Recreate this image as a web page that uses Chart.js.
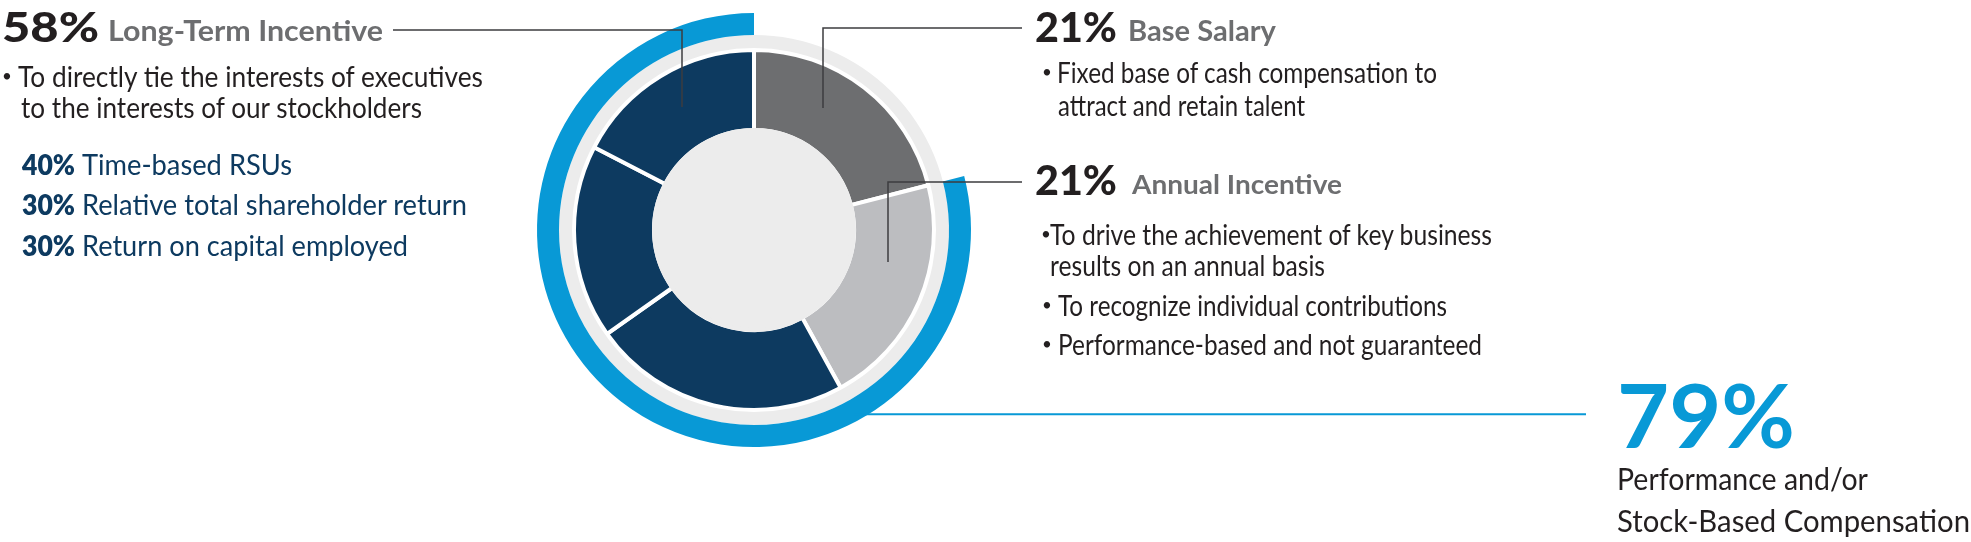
<!DOCTYPE html>
<html>
<head>
<meta charset="utf-8">
<script src="https://cdn.jsdelivr.net/npm/chart.js@4.4.1/dist/chart.umd.min.js"></script>
<style>
  html, body { margin: 0; padding: 0; background: #ffffff; overflow: hidden; width: 1971px; height: 542px; }
  #wrap { position: relative; width: 1971px; height: 542px; }
  #c { position: absolute; left: 0; top: 0; }
  .t { position: absolute; left: 0; top: 0; white-space: nowrap; font-family: Lato, "Open Sans", sans-serif; line-height: 1.2; transform-origin: 0 0; }
  .bl { display: inline-block; width: 0; height: 0; vertical-align: baseline; }
</style>
</head>
<body>
<div id="wrap"><canvas id="c" width="1971" height="542"></canvas></div>
<script>
// ---------------- data ----------------
const categories = ['Base Salary', 'Annual Incentive', 'Time-based RSUs', 'Relative total shareholder return', 'Return on capital employed'];
const shares = [21, 21, 23.2, 17.4, 17.4];
const segmentColors = ['#6d6e70', '#bcbdc0', '#0d3a60', '#0d3a60', '#0d3a60'];
const perfLabels = ['Fixed', 'Performance and/or Stock-Based Compensation'];
const perfShares = [21, 79];
const perfColors = ['rgba(0,0,0,0)', '#0899d6'];

// ---------------- styles ----------------
const NAVY = '#0d3a60', BLUE = '#0899d6', INK = '#231f20', GREY = '#6d6e70', RING = '#ececec';

// ---------------- text (layout) ----------------
// x = left, y = baseline, s = font size, w = weight, c = colour, fit = target width
const texts = [
  {x: 2,    y: 42,  s: 41, w: 900, c: INK,  t: '58%', fit: 97},
  {x: 108,  y: 41,  s: 28, w: 700, c: GREY, t: 'Long-Term Incentive', fit: 275},
  {x: 2,    y: 82,  s: 17, w: 400, c: INK,  t: '•', fit: null},
  {x: 18,   y: 87,  s: 28, w: 400, c: INK,  t: 'To directly tie the interests of executives', fit: 465},
  {x: 21,   y: 118, s: 28, w: 400, c: INK,  t: 'to the interests of our stockholders', fit: 401},
  {x: 22,   y: 175, s: 28, w: 800, c: NAVY, t: '40%', fit: 53},
  {x: 82,   y: 175, s: 28, w: 400, c: NAVY, t: 'Time-based RSUs', fit: 210},
  {x: 22,   y: 215, s: 28, w: 800, c: NAVY, t: '30%', fit: 53},
  {x: 82,   y: 215, s: 28, w: 400, c: NAVY, t: 'Relative total shareholder return', fit: 385},
  {x: 22,   y: 256, s: 28, w: 800, c: NAVY, t: '30%', fit: 53},
  {x: 82,   y: 256, s: 28, w: 400, c: NAVY, t: 'Return on capital employed', fit: 326},

  {x: 1035, y: 42,  s: 41, w: 900, c: INK,  t: '21%', fit: 82},
  {x: 1128, y: 41,  s: 28, w: 700, c: GREY, t: 'Base Salary', fit: 148},
  {x: 1042, y: 78,  s: 17, w: 400, c: INK,  t: '•', fit: null},
  {x: 1057, y: 83,  s: 28, w: 400, c: INK,  t: 'Fixed base of cash compensation to', fit: 380},
  {x: 1058, y: 116, s: 28, w: 400, c: INK,  t: 'attract and retain talent', fit: 247},

  {x: 1035, y: 195, s: 41, w: 900, c: INK,  t: '21%', fit: 82},
  {x: 1132, y: 194, s: 26, w: 700, c: GREY, t: 'Annual Incentive', fit: 210},
  {x: 1041, y: 240, s: 17, w: 400, c: INK,  t: '•', fit: null},
  {x: 1050, y: 245, s: 28, w: 400, c: INK,  t: 'To drive the achievement of key business', fit: 442},
  {x: 1050, y: 276, s: 28, w: 400, c: INK,  t: 'results on an annual basis', fit: 275},
  {x: 1042, y: 311, s: 17, w: 400, c: INK,  t: '•', fit: null},
  {x: 1058, y: 316, s: 28, w: 400, c: INK,  t: 'To recognize individual contributions', fit: 389},
  {x: 1042, y: 350, s: 17, w: 400, c: INK,  t: '•', fit: null},
  {x: 1058, y: 355, s: 28, w: 400, c: INK,  t: 'Performance-based and not guaranteed', fit: 424},

  {x: 1617, y: 448, s: 88, w: 700, c: BLUE, t: '79%', fit: 178},
  {x: 1617, y: 490, s: 30, w: 400, c: INK,  t: 'Performance and/or', fit: 251},
  {x: 1617, y: 532, s: 30, w: 400, c: INK,  t: 'Stock-Based Compensation', fit: 353}
];

const wrap = document.getElementById('wrap');
texts.forEach(d => {
  const el = document.createElement('div');
  el.className = 't';
  el.style.fontSize = d.s + 'px';
  el.style.fontWeight = d.w;
  el.style.color = d.c;
  el.appendChild(document.createTextNode(d.t));
  const b = document.createElement('span');
  b.className = 'bl';
  el.appendChild(b);
  wrap.appendChild(el);
  const off = b.offsetTop;
  el.style.left = d.x + 'px';
  el.style.top = (d.y - off) + 'px';
  if (d.fit) {
    const nat = el.getBoundingClientRect().width;
    el.style.transform = 'scaleX(' + (d.fit / nat) + ')';
  }
});

// ---------------- leader lines (relative to chart centre) ----------------
const leaders = [
  {color: '#3d3d3f', width: 1.5, pts: [[-361, -200], [-72, -200], [-72, -123]]},
  {color: '#3d3d3f', width: 1.5, pts: [[69, -122], [69, -202], [268, -202]]},
  {color: '#3d3d3f', width: 1.5, pts: [[134, 32], [134, -48], [268, -48]]},
  {color: BLUE, width: 2, pts: [[100, 184.3], [832, 184.3]]}
];

const leaderPlugin = {
  id: 'leaders',
  afterDatasetsDraw(chart) {
    const arc = chart.getDatasetMeta(3).data[0];
    const cx = arc.x, cy = arc.y;
    const ctx = chart.ctx;
    ctx.save();
    leaders.forEach(l => {
      ctx.strokeStyle = l.color;
      ctx.lineWidth = l.width;
      ctx.lineCap = 'butt';
      ctx.lineJoin = 'miter';
      ctx.beginPath();
      l.pts.forEach((p, i) => {
        if (i === 0) ctx.moveTo(cx + p[0], cy + p[1]);
        else ctx.lineTo(cx + p[0], cy + p[1]);
      });
      ctx.stroke();
    });
    ctx.restore();
  }
};

// ---------------- chart ----------------
new Chart(document.getElementById('c').getContext('2d'), {
  type: 'doughnut',
  data: {
    labels: categories,
    datasets: [
      {label: 'Performance', data: perfShares, backgroundColor: perfColors, borderWidth: 0, weight: 22, order: 1},
      {label: 'Ring', data: [100], backgroundColor: [RING], borderWidth: 0, weight: 13, order: 1},
      {label: 'Gap', data: [100], backgroundColor: ['rgba(0,0,0,0)'], borderWidth: 0, weight: 2, order: 1},
      {label: 'Mix', data: shares, backgroundColor: segmentColors, borderColor: '#ffffff', borderWidth: 4, weight: 80, order: 1},
      {label: 'Core', data: [100], backgroundColor: [RING], borderColor: RING, borderWidth: 4, weight: 100, order: 0}
    ]
  },
  options: {
    responsive: false,
    maintainAspectRatio: false,
    animation: false,
    events: [],
    radius: 217,
    cutout: 0,
    rotation: 0,
    circumference: 360,
    layout: {padding: {left: 537, right: 1000, top: 13, bottom: 95}},
    plugins: {legend: {display: false}, tooltip: {enabled: false}, title: {display: false}}
  },
  plugins: [leaderPlugin]
});
</script>
</body>
</html>
